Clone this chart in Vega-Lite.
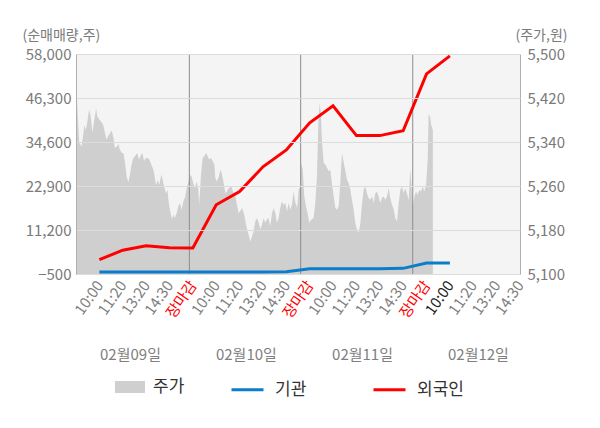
{
  "$schema": "https://vega.github.io/schema/vega-lite/v6.json",
  "width": 444,
  "height": 220,
  "autosize": {"type": "none"},
  "padding": {"left": 76, "top": 54, "right": 80, "bottom": 154},
  "background": "#ffffff",
  "config": {
    "font": "Noto Sans CJK KR",
    "view": {"fill": "#f4f4f4", "stroke": null},
    "axis": {
      "labelFont": "Noto Sans CJK KR",
      "titleFont": "Noto Sans CJK KR",
      "labelColor": "#7a7a7a",
      "titleColor": "#7a7a7a",
      "titleFontWeight": "normal",
      "domainColor": "#b0b0b0",
      "ticks": false,
      "labelOverlap": false,
      "labelFlush": false
    },
    "legend": {
      "labelFont": "Noto Sans CJK KR",
      "labelFontSize": 17,
      "labelColor": "#333333",
      "padding": 0
    }
  },
  "datasets": {
    "price": [
      {"t": -1.0, "p": 5480}, {"t": -0.97, "p": 5429}, {"t": -0.91, "p": 5377}, {"t": -0.86, "p": 5339},
      {"t": -0.76, "p": 5332}, {"t": -0.69, "p": 5353}, {"t": -0.64, "p": 5371}, {"t": -0.58, "p": 5362},
      {"t": -0.52, "p": 5375}, {"t": -0.44, "p": 5399}, {"t": -0.37, "p": 5387}, {"t": -0.30, "p": 5357},
      {"t": -0.23, "p": 5377}, {"t": -0.14, "p": 5401}, {"t": -0.09, "p": 5387}, {"t": 0.0, "p": 5381},
      {"t": 0.08, "p": 5377}, {"t": 0.17, "p": 5371}, {"t": 0.24, "p": 5356}, {"t": 0.31, "p": 5344},
      {"t": 0.38, "p": 5351}, {"t": 0.45, "p": 5356}, {"t": 0.53, "p": 5361}, {"t": 0.60, "p": 5348},
      {"t": 0.66, "p": 5330}, {"t": 0.74, "p": 5331}, {"t": 0.81, "p": 5337}, {"t": 0.88, "p": 5326},
      {"t": 0.96, "p": 5320}, {"t": 1.03, "p": 5320}, {"t": 1.10, "p": 5302}, {"t": 1.17, "p": 5277},
      {"t": 1.24, "p": 5267}, {"t": 1.31, "p": 5281}, {"t": 1.38, "p": 5299}, {"t": 1.45, "p": 5311},
      {"t": 1.54, "p": 5315}, {"t": 1.62, "p": 5320}, {"t": 1.70, "p": 5308}, {"t": 1.77, "p": 5315},
      {"t": 1.84, "p": 5320}, {"t": 1.91, "p": 5305}, {"t": 1.98, "p": 5311}, {"t": 2.05, "p": 5311},
      {"t": 2.14, "p": 5308}, {"t": 2.22, "p": 5299}, {"t": 2.31, "p": 5290}, {"t": 2.37, "p": 5277},
      {"t": 2.42, "p": 5262}, {"t": 2.51, "p": 5271}, {"t": 2.57, "p": 5262}, {"t": 2.65, "p": 5281},
      {"t": 2.71, "p": 5271}, {"t": 2.77, "p": 5259}, {"t": 2.85, "p": 5247}, {"t": 2.91, "p": 5253},
      {"t": 2.98, "p": 5226}, {"t": 3.05, "p": 5211}, {"t": 3.11, "p": 5199}, {"t": 3.16, "p": 5208},
      {"t": 3.22, "p": 5202}, {"t": 3.31, "p": 5211}, {"t": 3.38, "p": 5223}, {"t": 3.45, "p": 5229},
      {"t": 3.52, "p": 5217}, {"t": 3.59, "p": 5232}, {"t": 3.66, "p": 5238}, {"t": 3.74, "p": 5256},
      {"t": 3.81, "p": 5268}, {"t": 3.88, "p": 5281}, {"t": 3.95, "p": 5277}, {"t": 4.02, "p": 5265},
      {"t": 4.09, "p": 5256}, {"t": 4.16, "p": 5268}, {"t": 4.23, "p": 5256}, {"t": 4.27, "p": 5226},
      {"t": 4.35, "p": 5281}, {"t": 4.42, "p": 5311}, {"t": 4.49, "p": 5314}, {"t": 4.56, "p": 5320},
      {"t": 4.64, "p": 5314}, {"t": 4.70, "p": 5308}, {"t": 4.78, "p": 5311}, {"t": 4.85, "p": 5305},
      {"t": 4.92, "p": 5299}, {"t": 4.96, "p": 5275}, {"t": 5.03, "p": 5268}, {"t": 5.11, "p": 5277},
      {"t": 5.18, "p": 5290}, {"t": 5.25, "p": 5281}, {"t": 5.32, "p": 5265}, {"t": 5.39, "p": 5247},
      {"t": 5.46, "p": 5250}, {"t": 5.53, "p": 5256}, {"t": 5.65, "p": 5259}, {"t": 5.75, "p": 5247},
      {"t": 5.82, "p": 5241}, {"t": 5.89, "p": 5226}, {"t": 5.96, "p": 5211}, {"t": 6.03, "p": 5214},
      {"t": 6.10, "p": 5220}, {"t": 6.18, "p": 5211}, {"t": 6.25, "p": 5196}, {"t": 6.32, "p": 5181},
      {"t": 6.39, "p": 5171}, {"t": 6.46, "p": 5159}, {"t": 6.53, "p": 5168}, {"t": 6.60, "p": 5177},
      {"t": 6.67, "p": 5196}, {"t": 6.75, "p": 5202}, {"t": 6.82, "p": 5193}, {"t": 6.89, "p": 5181},
      {"t": 6.96, "p": 5190}, {"t": 7.03, "p": 5202}, {"t": 7.10, "p": 5193}, {"t": 7.17, "p": 5199},
      {"t": 7.24, "p": 5202}, {"t": 7.31, "p": 5187}, {"t": 7.39, "p": 5211}, {"t": 7.46, "p": 5220},
      {"t": 7.53, "p": 5211}, {"t": 7.60, "p": 5193}, {"t": 7.67, "p": 5202}, {"t": 7.74, "p": 5220},
      {"t": 7.81, "p": 5232}, {"t": 7.89, "p": 5226}, {"t": 7.96, "p": 5229}, {"t": 8.03, "p": 5214},
      {"t": 8.10, "p": 5229}, {"t": 8.17, "p": 5217}, {"t": 8.24, "p": 5226}, {"t": 8.31, "p": 5250},
      {"t": 8.38, "p": 5232}, {"t": 8.46, "p": 5220}, {"t": 8.53, "p": 5253}, {"t": 8.59, "p": 5259},
      {"t": 8.64, "p": 5302}, {"t": 8.70, "p": 5290}, {"t": 8.77, "p": 5241}, {"t": 8.84, "p": 5223},
      {"t": 8.91, "p": 5211}, {"t": 8.98, "p": 5193}, {"t": 9.07, "p": 5199}, {"t": 9.17, "p": 5202},
      {"t": 9.24, "p": 5229}, {"t": 9.31, "p": 5277}, {"t": 9.38, "p": 5387}, {"t": 9.43, "p": 5411},
      {"t": 9.48, "p": 5390}, {"t": 9.53, "p": 5338}, {"t": 9.60, "p": 5302}, {"t": 9.67, "p": 5299},
      {"t": 9.74, "p": 5293}, {"t": 9.81, "p": 5287}, {"t": 9.88, "p": 5290}, {"t": 9.95, "p": 5265},
      {"t": 10.03, "p": 5241}, {"t": 10.10, "p": 5220}, {"t": 10.17, "p": 5217}, {"t": 10.24, "p": 5223},
      {"t": 10.31, "p": 5265}, {"t": 10.38, "p": 5320}, {"t": 10.46, "p": 5302}, {"t": 10.53, "p": 5287},
      {"t": 10.60, "p": 5271}, {"t": 10.67, "p": 5265}, {"t": 10.74, "p": 5253}, {"t": 10.81, "p": 5235},
      {"t": 10.88, "p": 5217}, {"t": 10.95, "p": 5193}, {"t": 11.02, "p": 5181}, {"t": 11.10, "p": 5175},
      {"t": 11.17, "p": 5193}, {"t": 11.24, "p": 5229}, {"t": 11.31, "p": 5253}, {"t": 11.38, "p": 5259},
      {"t": 11.45, "p": 5247}, {"t": 11.52, "p": 5238}, {"t": 11.59, "p": 5235}, {"t": 11.67, "p": 5241},
      {"t": 11.74, "p": 5229}, {"t": 11.81, "p": 5247}, {"t": 11.88, "p": 5250}, {"t": 11.95, "p": 5241},
      {"t": 12.02, "p": 5229}, {"t": 12.09, "p": 5238}, {"t": 12.16, "p": 5241}, {"t": 12.24, "p": 5235},
      {"t": 12.31, "p": 5241}, {"t": 12.38, "p": 5256}, {"t": 12.45, "p": 5238}, {"t": 12.52, "p": 5226},
      {"t": 12.60, "p": 5217}, {"t": 12.66, "p": 5202}, {"t": 12.74, "p": 5196}, {"t": 12.81, "p": 5229},
      {"t": 12.88, "p": 5253}, {"t": 12.95, "p": 5259}, {"t": 13.02, "p": 5247}, {"t": 13.09, "p": 5256},
      {"t": 13.16, "p": 5247}, {"t": 13.24, "p": 5235}, {"t": 13.30, "p": 5290}, {"t": 13.35, "p": 5265},
      {"t": 13.41, "p": 5223}, {"t": 13.48, "p": 5241}, {"t": 13.55, "p": 5250}, {"t": 13.62, "p": 5244},
      {"t": 13.69, "p": 5253}, {"t": 13.76, "p": 5250}, {"t": 13.84, "p": 5259}, {"t": 13.90, "p": 5250},
      {"t": 13.98, "p": 5262}, {"t": 14.05, "p": 5308}, {"t": 14.09, "p": 5390}, {"t": 14.15, "p": 5387},
      {"t": 14.20, "p": 5371}, {"t": 14.27, "p": 5362}
    ],
    "flow": [
      {"t": 0, "s": "기관", "v": 0}, {"t": 1, "s": "기관", "v": 0}, {"t": 2, "s": "기관", "v": 0},
      {"t": 3, "s": "기관", "v": 0}, {"t": 4, "s": "기관", "v": 0}, {"t": 5, "s": "기관", "v": 0},
      {"t": 6, "s": "기관", "v": 0}, {"t": 7, "s": "기관", "v": 0}, {"t": 8, "s": "기관", "v": 100},
      {"t": 9, "s": "기관", "v": 900}, {"t": 10, "s": "기관", "v": 900}, {"t": 11, "s": "기관", "v": 900},
      {"t": 12, "s": "기관", "v": 900}, {"t": 13, "s": "기관", "v": 1000}, {"t": 14, "s": "기관", "v": 2400},
      {"t": 15, "s": "기관", "v": 2400},
      {"t": 0, "s": "외국인", "v": 3300}, {"t": 1, "s": "외국인", "v": 5830}, {"t": 2, "s": "외국인", "v": 7000},
      {"t": 3, "s": "외국인", "v": 6500}, {"t": 4, "s": "외국인", "v": 6400}, {"t": 5, "s": "외국인", "v": 17900},
      {"t": 6, "s": "외국인", "v": 21400}, {"t": 7, "s": "외국인", "v": 28000}, {"t": 8, "s": "외국인", "v": 32500},
      {"t": 9, "s": "외국인", "v": 39700}, {"t": 10, "s": "외국인", "v": 44250}, {"t": 11, "s": "외국인", "v": 36300},
      {"t": 12, "s": "외국인", "v": 36300}, {"t": 13, "s": "외국인", "v": 37600}, {"t": 14, "s": "외국인", "v": 52700},
      {"t": 15, "s": "외국인", "v": 57500}
    ],
    "close": [
      {"t": 3.85}, {"t": 8.615}, {"t": 13.41}
    ]
  },
  "layer": [
    {
      "data": {"name": "price"},
      "mark": {"type": "area", "clip": true},
      "encoding": {
        "x": {
          "field": "t",
          "type": "quantitative",
          "scale": {"domain": [-1, 18], "nice": false, "zero": false},
          "axis": {
            "orient": "bottom",
            "values": [0, 1, 2, 3, 4, 5, 6, 7, 8, 9, 10, 11, 12, 13, 14, 15, 16, 17, 18],
            "labelExpr": "['10:00','11:20','13:20','14:30','장마감'][datum.value % 5]",
            "labelAngle": -55,
            "labelAlign": "right",
            "labelBaseline": "middle",
            "labelFontSize": 15,
            "labelPadding": 8,
            "labelColor": {
              "condition": [
                {"test": "datum.value % 5 === 4", "value": "#ff0000"},
                {"test": "datum.value === 15", "value": "#222222"}
              ],
              "value": "#808080"
            },
            "grid": false,
            "title": null
          }
        },
        "y": {
          "field": "p",
          "type": "quantitative",
          "scale": {"domain": [5100, 5500], "nice": false, "zero": false},
          "axis": {
            "orient": "right",
            "values": [5100, 5180, 5260, 5340, 5420, 5500],
            "format": ",.0f",
            "grid": false,
            "labelFontSize": 15,
            "labelPadding": 7,
            "title": "(주가,원)",
            "titleFontSize": 14,
            "titleAngle": 0,
            "titleAlign": "right",
            "titleBaseline": "middle",
            "titleX": 47,
            "titleY": -19
          }
        },
        "y2": {"datum": 5100},
        "fill": {
          "datum": "주가",
          "type": "nominal",
          "scale": {"domain": ["주가"], "range": ["#cfcfcf"]},
          "legend": {
            "orient": "none",
            "legendX": 39,
            "legendY": 318,
            "title": null,
            "symbolType": "M-1,-0.4H1V0.4H-1Z",
            "symbolSize": 900,
            "symbolStrokeWidth": 0,
            "labelOffset": 8
          }
        }
      }
    },
    {
      "data": {"name": "close"},
      "mark": {"type": "rule", "color": "#8c8c8c", "strokeWidth": 1},
      "encoding": {
        "x": {
          "field": "t",
          "type": "quantitative",
          "scale": {"domain": [-1, 18], "nice": false, "zero": false},
          "axis": {
            "orient": "bottom",
            "values": [1.31, 6.27, 11.24, 16.2],
            "labelExpr": "datum.value < 3 ? '02월09일' : datum.value < 8 ? '02월10일' : datum.value < 13 ? '02월11일' : '02월12일'",
            "labelAngle": 0,
            "labelAlign": "center",
            "labelFontSize": 15,
            "labelColor": "#808080",
            "labelPadding": 0,
            "offset": 73,
            "domain": false,
            "grid": false,
            "title": null
          }
        }
      }
    },
    {
      "data": {"name": "flow"},
      "mark": {"type": "line", "strokeWidth": 3},
      "encoding": {
        "x": {
          "field": "t",
          "type": "quantitative",
          "scale": {"domain": [-1, 18], "nice": false, "zero": false},
          "axis": null
        },
        "y": {
          "field": "v",
          "type": "quantitative",
          "scale": {"domain": [-500, 58000], "nice": false, "zero": false},
          "axis": {
            "orient": "left",
            "values": [-500, 11200, 22900, 34600, 46300, 58000],
            "format": ",.0f",
            "grid": true,
            "gridColor": "#dcdcdc",
            "zindex": 1,
            "labelFontSize": 15,
            "labelPadding": 5,
            "title": "(순매매량,주)",
            "titleFontSize": 14,
            "titleAngle": 0,
            "titleAlign": "left",
            "titleBaseline": "middle",
            "titleX": -54,
            "titleY": -19
          }
        },
        "stroke": {
          "field": "s",
          "type": "nominal",
          "scale": {"domain": ["기관", "외국인"], "range": ["#0b7dca", "#ff0000"]},
          "legend": {
            "orient": "none",
            "legendX": 154,
            "legendY": 318,
            "direction": "horizontal",
            "title": null,
            "symbolType": "stroke",
            "symbolSize": 1024,
            "symbolStrokeWidth": 3,
            "labelOffset": 10,
            "columnPadding": 60
          }
        }
      }
    }
  ],
  "resolve": {
    "scale": {"y": "independent"},
    "axis": {"x": "independent", "y": "independent"}
  }
}
